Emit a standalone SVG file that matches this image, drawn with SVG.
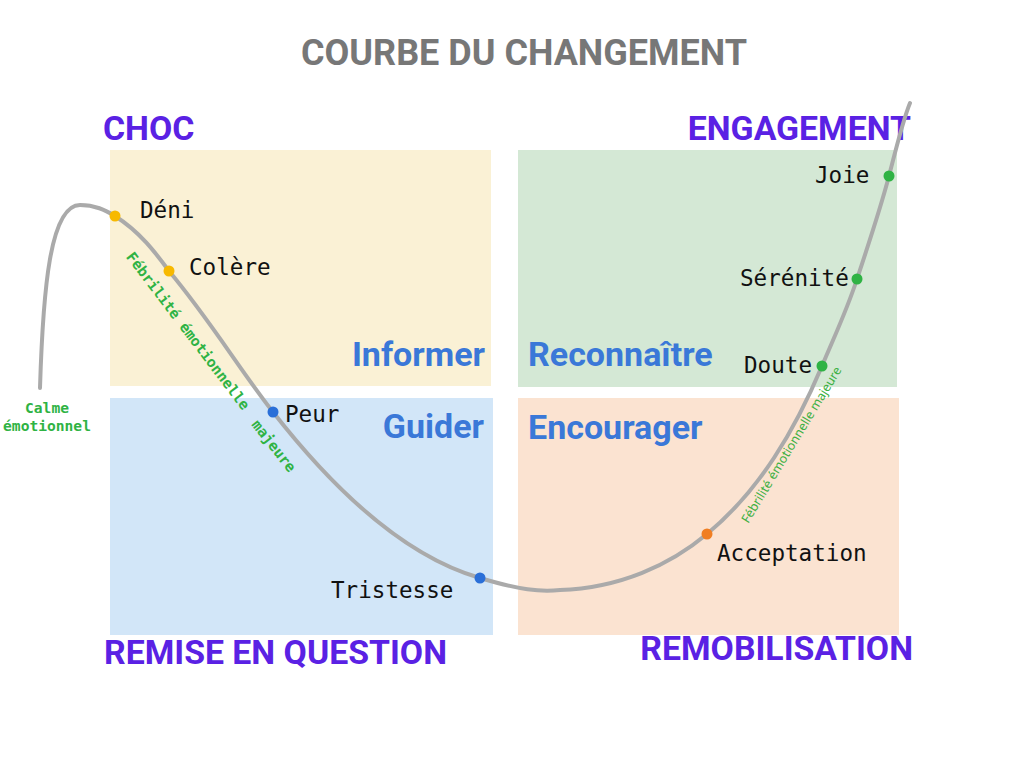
<svg xmlns="http://www.w3.org/2000/svg" width="1024" height="768" viewBox="0 0 1024 768">
<style>
.title{font-family:Roboto,"Liberation Sans",sans-serif;font-weight:bold;font-size:36px;fill:#777777}
.phase{font-family:Roboto,"Liberation Sans",sans-serif;font-weight:bold;font-size:33.8px;fill:#5a21e4}
.act{font-family:Roboto,"Liberation Sans",sans-serif;font-weight:bold;font-size:34px;fill:#3a78d8}
.emo{font-family:"DejaVu Sans Mono","Liberation Mono",monospace;font-size:22.6px;fill:#111111}
.note{font-family:"DejaVu Sans Mono","Liberation Mono",monospace;font-weight:bold;font-size:14.6px;fill:#2fb344}
.note2{font-family:"Noto Sans","Open Sans",sans-serif;font-size:12.5px;fill:#3cb043}
</style>
<rect width="1024" height="768" fill="#ffffff"/>
<text class="title" x="524" y="65" text-anchor="middle">COURBE DU CHANGEMENT</text>
<g id="quadrants">
<rect x="110" y="150" width="381" height="236" fill="#faf1d5"/>
<rect x="110" y="398" width="383" height="237" fill="#d2e6f8"/>
<rect x="518" y="150" width="379" height="237" fill="#d4e8d5"/>
<rect x="518" y="398" width="381" height="237" fill="#fbe3d1"/>
</g>
<g id="phases">
<text class="phase" x="103" y="140">CHOC</text>
<text class="phase" x="911" y="140" text-anchor="end">ENGAGEMENT</text>
<text class="phase" x="104" y="664">REMISE EN QUESTION</text>
<text class="phase" x="913" y="660" text-anchor="end">REMOBILISATION</text>
</g>
<g id="actions">
<text class="act" x="485" y="366" text-anchor="end">Informer</text>
<text class="act" x="528" y="366">Reconnaître</text>
<text class="act" x="484" y="438" text-anchor="end">Guider</text>
<text class="act" x="528" y="439">Encourager</text>
</g>
<g id="connectors">
<path d="M40,388 C43,290 50,205 80,205 C95,205 105,210 115,216 C140,232 155,252 169,271 C210,320 240,370 273,412 C330,485 400,555 480,578 C520,590 540,592 560,590 C620,588 670,565 707,534 C760,490 795,430 822,366 C835,335 847,310 857,279 C870,240 880,210 889,176 C897,145 903,120 910,103" fill="none" stroke="#aaaaaa" stroke-width="4" stroke-linecap="round"/>
</g>
<g id="notes">
<text class="note" x="47" y="413" text-anchor="middle">Calme</text>
<text class="note" x="47" y="431" text-anchor="middle">émotionnel</text>
<text class="note" transform="translate(184,334) rotate(52.8)" text-anchor="middle">Fébrilité émotionnelle</text>
<text class="note" transform="translate(270,449) rotate(52)" text-anchor="middle">majeure</text>
<text class="note2" transform="translate(795,447) rotate(-58.7)" text-anchor="middle">Fébrilité émotionnelle majeure</text>
</g>
<g id="node-deni"><circle cx="115" cy="216" r="5.5" fill="#f7b900"/><text class="emo" x="140" y="218">Déni</text></g>
<g id="node-colere"><circle cx="169" cy="271" r="5.5" fill="#f7b900"/><text class="emo" x="189" y="275">Colère</text></g>
<g id="node-peur"><circle cx="273" cy="412" r="5.5" fill="#2a6fd8"/><text class="emo" x="285" y="422">Peur</text></g>
<g id="node-tristesse"><circle cx="480" cy="578" r="5.5" fill="#2a6fd8"/><text class="emo" x="331" y="598">Tristesse</text></g>
<g id="node-acceptation"><circle cx="707" cy="534" r="5.5" fill="#f07e22"/><text class="emo" x="717" y="561">Acceptation</text></g>
<g id="node-doute"><circle cx="822" cy="366" r="5.5" fill="#2fb344"/><text class="emo" x="744" y="373">Doute</text></g>
<g id="node-serenite"><circle cx="857" cy="279" r="5.5" fill="#2fb344"/><text class="emo" x="740" y="286">Sérénité</text></g>
<g id="node-joie"><circle cx="889" cy="176" r="5.5" fill="#2fb344"/><text class="emo" x="815" y="183">Joie</text></g>
</svg>
